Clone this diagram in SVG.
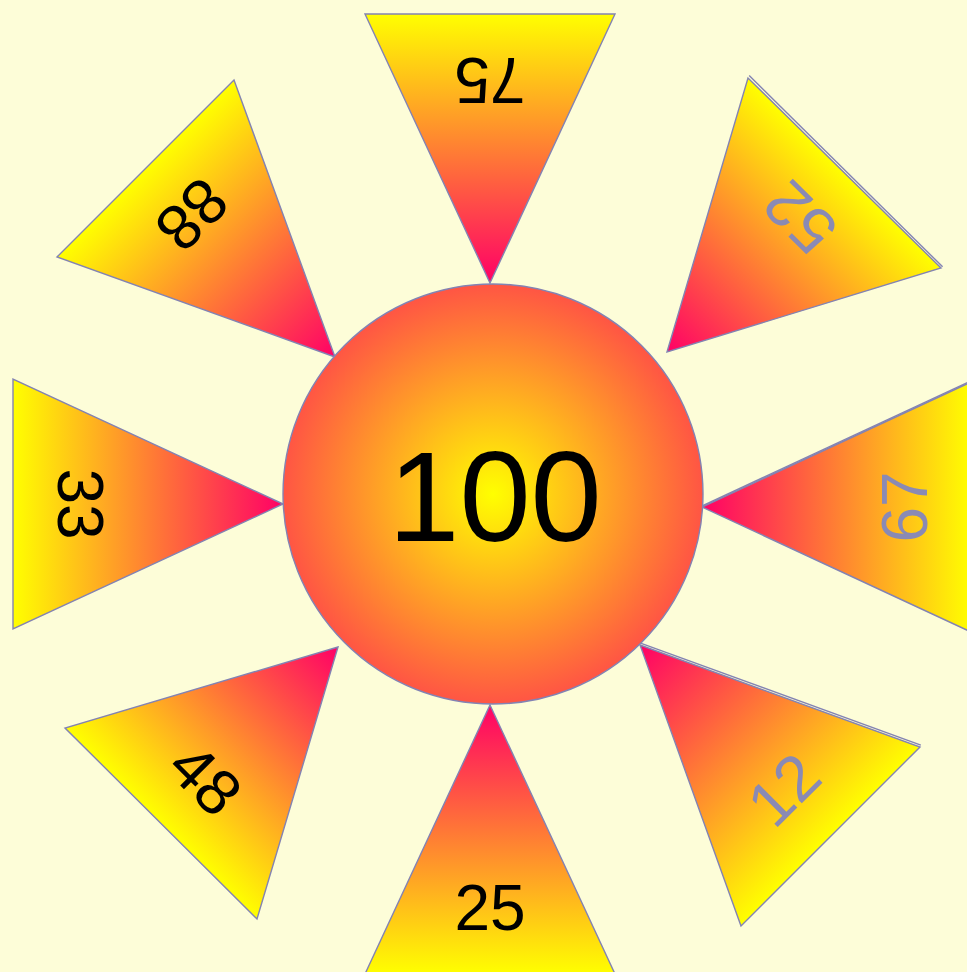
<svg xmlns="http://www.w3.org/2000/svg" width="967" height="972" viewBox="0 0 967 972">
  <defs>
    <linearGradient id="g75" gradientUnits="userSpaceOnUse" x1="490" y1="14" x2="490" y2="283"><stop offset="0" stop-color="#ffff00"/><stop offset="1" stop-color="#ff0066"/></linearGradient>
    <linearGradient id="g25" gradientUnits="userSpaceOnUse" x1="490" y1="974" x2="490" y2="705"><stop offset="0" stop-color="#ffff00"/><stop offset="1" stop-color="#ff0066"/></linearGradient>
    <linearGradient id="g33" gradientUnits="userSpaceOnUse" x1="13" y1="504" x2="283" y2="504"><stop offset="0" stop-color="#ffff00"/><stop offset="1" stop-color="#ff0066"/></linearGradient>
    <linearGradient id="g67" gradientUnits="userSpaceOnUse" x1="971" y1="507" x2="702" y2="507"><stop offset="0" stop-color="#ffff00"/><stop offset="1" stop-color="#ff0066"/></linearGradient>
    <linearGradient id="g88" gradientUnits="userSpaceOnUse" x1="145.5" y1="168.5" x2="335" y2="357"><stop offset="0" stop-color="#ffff00"/><stop offset="1" stop-color="#ff0066"/></linearGradient>
    <linearGradient id="g52" gradientUnits="userSpaceOnUse" x1="844.5" y1="172.5" x2="667" y2="352"><stop offset="0" stop-color="#ffff00"/><stop offset="1" stop-color="#ff0066"/></linearGradient>
    <linearGradient id="g12" gradientUnits="userSpaceOnUse" x1="830.5" y1="836.5" x2="640" y2="645"><stop offset="0" stop-color="#ffff00"/><stop offset="1" stop-color="#ff0066"/></linearGradient>
    <linearGradient id="g48" gradientUnits="userSpaceOnUse" x1="161" y1="823.5" x2="338" y2="647"><stop offset="0" stop-color="#ffff00"/><stop offset="1" stop-color="#ff0066"/></linearGradient>
    <radialGradient id="sunGrad" cx="0.5" cy="0.5" r="0.75">
      <stop offset="0" stop-color="#ffff00"/>
      <stop offset="1" stop-color="#ff0066"/>
    </radialGradient>
  </defs>
  <style>
    .ray { stroke: #8383b3; stroke-width: 1.4; stroke-linejoin: miter; }
    .edge { fill: none; stroke: #8383b3; stroke-width: 1.4; }
    .lbl { font-family: "Liberation Sans", Arial, sans-serif; font-size: 64px; text-anchor: middle; }
    .dark { fill: #000000; }
    .grey { fill: #8a8ab4; }
  </style>
  <rect x="0" y="0" width="967" height="972" fill="#fdfdd8"/>

  <g id="ray-75">
    <polygon class="ray" fill="url(#g75)" points="490,283 615,14 365,14"/>
    <text class="lbl dark" transform="translate(490,57.6) rotate(180)">75</text>
  </g>
  <g id="ray-25">
    <polygon class="ray" fill="url(#g25)" points="490,705 615,974 365,974"/>
    <text class="lbl dark" transform="translate(490,930.4)">25</text>
  </g>
  <g id="ray-33">
    <polygon class="ray" fill="url(#g33)" points="283,504 13,379 13,629"/>
    <text class="lbl dark" transform="translate(57.6,504) rotate(90)">33</text>
  </g>
  <g id="ray-67">
    <polygon class="ray" fill="url(#g67)" points="702,507 971,382 971,632"/>
    <line class="edge" x1="701.6" y1="506.1" x2="970.6" y2="381.1"/>
    <text class="lbl grey" transform="translate(927.4,507) rotate(-90)">67</text>
  </g>
  <g id="ray-88">
    <polygon class="ray" fill="url(#g88)" points="335,357 234,80 57,257"/>
    <text class="lbl dark" transform="translate(176.2,199) rotate(134.8)">88</text>
  </g>
  <g id="ray-52">
    <polygon class="ray" fill="url(#g52)" points="667,352 748,78 941,268"/>
    <line class="edge" x1="749.2" y1="75.6" x2="942.6" y2="266.8"/>
    <text class="lbl grey" transform="translate(815.7,201.6) rotate(-135.3)">52</text>
  </g>
  <g id="ray-12">
    <polygon class="ray" fill="url(#g12)" points="640,645 920,747 741,926"/>
    <line class="edge" x1="640.5" y1="643.1" x2="920.8" y2="745.2"/>
    <text class="lbl grey" transform="translate(799.6,805.5) rotate(-44.8)">12</text>
  </g>
  <g id="ray-48">
    <polygon class="ray" fill="url(#g48)" points="338,647 65,728 257,919"/>
    <text class="lbl dark" transform="translate(189.7,794.9) rotate(45.1)">48</text>
  </g>

  <g id="sun">
    <circle cx="493" cy="494" r="210" fill="url(#sunGrad)" stroke="#8383b3" stroke-width="1.4"/>
    <text x="495" y="541" font-family="Liberation Sans, Arial, sans-serif" font-size="128" text-anchor="middle" fill="#000000">100</text>
  </g>
</svg>
